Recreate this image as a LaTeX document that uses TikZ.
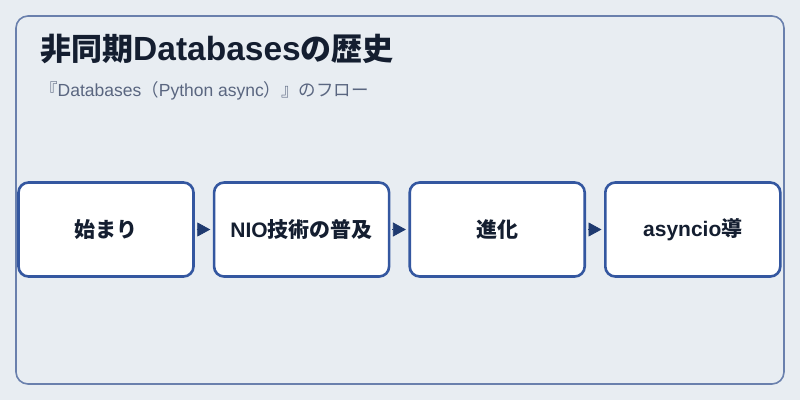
\documentclass[tikz,border=0pt]{standalone}
\usepackage{fontspec}
\setmainfont{Noto Sans CJK JP}
\newfontfamily\latinfont{Liberation Sans}
\newcommand{\latintext}[1]{{\latinfont #1}}
\usetikzlibrary{arrows.meta,positioning}
\definecolor{page color}{HTML}{E8EDF2}
\definecolor{frame color}{HTML}{6A80AD}
\definecolor{step border color}{HTML}{3457A0}
\definecolor{arrow color}{HTML}{1F3A70}
\definecolor{title color}{HTML}{141E30}
\definecolor{subtitle color}{HTML}{5A6680}
\tikzset{
    x={1pt},
    y={-1pt},
    frame/.style={
        fill=page color,
        draw=frame color,
        line width={1.6pt},
        rounded corners={12pt},
    },
    title/.style={
        font={\bfseries\fontsize{31}{34}\selectfont},
        text=title color,
        anchor=base west,
        inner sep=0pt,
    },
    subtitle/.style={
        font={\fontsize{17.5}{20}\selectfont},
        text=subtitle color,
        anchor=base west,
        inner sep=0pt,
    },
    stepbox/.style={
        draw=step border color, fill=white,
        line width={2.6pt},
        rounded corners={10pt},
        minimum width={175},
        minimum height={94},
        font={\bfseries\fontsize{21}{24}\selectfont},
        text=title color,
    },
    flow/.style={
        draw=arrow color,
        line width={0.8pt},
        shorten <={2pt},
        shorten >={2.5pt},
        -{Triangle[length={13pt},width={14pt}]},
        fill=arrow color,
    },
}

\begin{document}
\begin{tikzpicture}
% background
\path[fill=page color] (0,0) rectangle (800,400);
\path[frame] (16,16) rectangle (784,384);
% titles
\node[title] (title) at (40,60.5)
    {非同期{\latinfont\fontsize{33.5}{36}\selectfont Databases}の歴史};
\node[subtitle] (subtitle) at (40,96)
    {『\latintext{Databases}（\latintext{Python async}）』のフロー};
% steps
\node[stepbox] (start) at (106,229.5) {始まり};
\node[stepbox, right={18pt of start}] (nio) {\latintext{NIO}技術の普及};
\node[stepbox, right={18pt of nio}] (evolution) {進化};
\node[stepbox, right={18pt of evolution}] (asyncio) {\latintext{asyncio}導};
% arrows
\draw[flow] (start) -- (nio);
\draw[flow] (nio) -- (evolution);
\draw[flow] (evolution) -- (asyncio);
\end{tikzpicture}
\end{document}
